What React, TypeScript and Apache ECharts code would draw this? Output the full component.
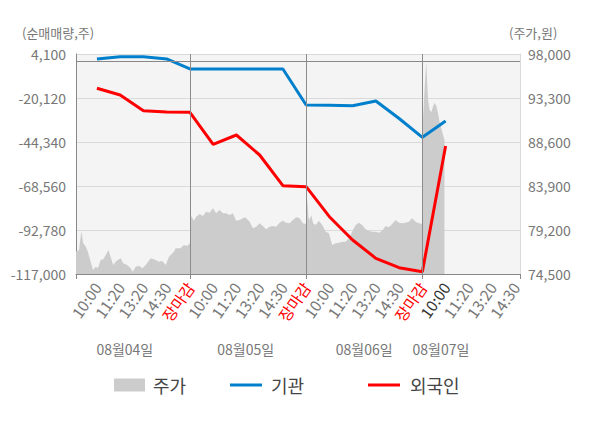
import { useEffect, useRef } from 'react';
import * as echarts from 'echarts';

// x-axis time labels, one per time slot (slot 1..19)
const X_LABELS = [
  '10:00', '11:20', '13:20', '14:30', '장마감',
  '10:00', '11:20', '13:20', '14:30', '장마감',
  '10:00', '11:20', '13:20', '14:30', '장마감',
  '10:00', '11:20', '13:20', '14:30',
];
const CLOSE_LABEL = '장마감';
const CURRENT_LABEL_INDEX = 15;

const DATE_LABELS = ['08월04일', '08월05일', '08월06일', '08월07일'];
const DATE_LABEL_SLOTS = [2.2, 7.4, 12.5, 15.8];
const DAY_BOUNDARIES = [5, 10, 15];

// net buying (shares), one value per time slot 1..16
const INSTITUTION = [
  1350, 2600, 2600, 1350, -4150,
  -4150, -4150, -4150, -4150, -23970,
  -24140, -24360, -21770, -31400, -41750,
  -32780,
];
const FOREIGN = [
  -14780, -18470, -27110, -27830, -27990,
  -45610, -40490, -51500, -68390, -68940,
  -85460, -98280, -108360, -113530, -115730,
  -46540,
];

// share price (won) sampled along the time slots
const PRICE_SLOT = [
  // 08/04
  0.1, 0.23, 0.33, 0.41, 0.52, 0.61, 0.73, 0.83, 0.95, 1.04,
  1.16, 1.27, 1.38, 1.49, 1.59, 1.7, 1.81, 1.9, 2.02, 2.13,
  2.3, 2.45, 2.54, 2.67, 2.81, 2.95, 3.1, 3.31, 3.53, 3.67,
  3.81, 3.96, 4.1, 4.31, 4.39, 4.6, 4.74, 4.88, 5.0,
  // 08/05
  5.03, 5.17, 5.27, 5.42, 5.56, 5.7, 5.85, 5.99, 6.13, 6.28,
  6.42, 6.56, 6.71, 6.85, 6.99, 7.14, 7.28, 7.38, 7.57, 7.71,
  7.85, 8.0, 8.14, 8.28, 8.43, 8.57, 8.71, 8.86, 9.0, 9.14,
  9.29, 9.43, 9.57, 9.72, 9.86, 10.0,
  // 08/06
  10.02, 10.05, 10.1, 10.15, 10.22, 10.3, 10.41, 10.55, 10.69, 10.84,
  10.98, 11.12, 11.27, 11.41, 11.55, 11.7, 11.84, 11.98, 12.13, 12.27,
  12.41, 12.56, 12.7, 12.84, 12.99, 13.13, 13.27, 13.42, 13.56, 13.7,
  13.85, 13.99, 14.13, 14.28, 14.42, 14.56, 14.71, 14.85, 15.0,
  // 08/07
  15.03, 15.1, 15.17, 15.24, 15.31, 15.39, 15.46, 15.53, 15.6, 15.67,
  15.74, 15.81, 15.88, 15.95,
];
const PRICE = [
  76900, 77050, 79100, 77810, 77420, 76880, 75810, 74930, 75280, 75110,
  76000, 76070, 76530, 77060, 76350, 75460, 75810, 76000, 76180, 75640,
  75460, 75110, 74750, 75280, 75390, 75110, 75460, 76180, 76000, 75810,
  75890, 75460, 76350, 76880, 77250, 77250, 77600, 77490, 77780,
  80800, 80190, 80620, 80910, 80700, 81150, 81050, 81520, 80980, 81340,
  80980, 80980, 80800, 80980, 80190, 80270, 80450, 80560, 80090, 79380,
  79550, 79920, 79630, 79280, 79550, 79630, 79550, 79980, 80190, 79980,
  79920, 80270, 80560, 80450, 79920, 79840,
  81500, 82500, 80600, 80270, 80800, 79920, 79730, 80190, 79730, 79020,
  78850, 77600, 77780, 77840, 77950, 77950, 78310, 79020, 79730, 79980,
  79730, 79280, 79130, 79020, 79020, 78910, 79130, 79630, 79490, 79840,
  80270, 79980, 79920, 79980, 80090, 80450, 80090, 79920, 79840,
  91160, 94480, 97150, 93190, 92020, 91800, 92450, 92770, 92450, 91700,
  90740, 90100, 89450, 88810,
];

const LEFT_MIN = -117000;
const LEFT_MAX = 4100;
const LEFT_STEP = 24220;
const RIGHT_MIN = 74500;
const RIGHT_MAX = 98000;
const RIGHT_STEP = 4700;
const X_MIN = 0.1;
const X_MAX = 19.2;

const FONT = "'Noto Sans CJK KR', 'Noto Sans', sans-serif";

export default function App() {
  const ref = useRef<HTMLDivElement>(null);

  useEffect(() => {
    if (!ref.current) return;
    const chart = echarts.init(ref.current, undefined, { renderer: 'svg' });

    const fmt = (v: number) => Number(v).toLocaleString('en-US');
    const labelIndex = (v: any) => Math.round(Number(v)) - 1;

    const option: any = {
      animation: false,
      textStyle: { fontFamily: FONT },
      title: [
        {
          text: '(순매매량,주)', left: 22, top: 26, padding: 0,
          textStyle: { fontSize: 13, fontWeight: 'normal', color: '#777', fontFamily: FONT },
        },
        {
          text: '(주가,원)', left: 509, top: 26, padding: 0,
          textStyle: { fontSize: 13, fontWeight: 'normal', color: '#777', fontFamily: FONT },
        },
      ],
      legend: [
        {
          data: ['주가'], left: 114, top: 376, padding: 0, icon: 'rect',
          itemWidth: 31, itemHeight: 13, itemStyle: { borderWidth: 0 },
          textStyle: { fontSize: 18, color: '#444', fontFamily: FONT, padding: [0, 0, 0, 3] },
        },
        {
          data: ['기관'], left: 230, top: 376, padding: 0, icon: 'rect',
          itemWidth: 32, itemHeight: 3, itemStyle: { borderWidth: 0 },
          textStyle: { fontSize: 18, color: '#444', fontFamily: FONT, padding: [0, 0, 0, 4] },
        },
        {
          data: ['외국인'], left: 368, top: 376, padding: 0, icon: 'rect',
          itemWidth: 32, itemHeight: 3, itemStyle: { borderWidth: 0 },
          textStyle: { fontSize: 18, color: '#444', fontFamily: FONT, padding: [0, 0, 0, 5] },
        },
      ],
      grid: {
        left: 76, right: 80, top: 54, bottom: 154,
        show: true, backgroundColor: '#f4f4f4', borderWidth: 0,
      },
      xAxis: [
        {
          type: 'value', min: X_MIN, max: X_MAX, position: 'bottom',
          axisLine: { show: true, onZero: false, lineStyle: { color: '#888' } },
          axisTick: {
            show: true, length: 5, lineStyle: { color: '#888' },
            customValues: [X_MIN, ...DAY_BOUNDARIES, X_MAX],
          },
          splitLine: { show: false },
          axisLabel: {
            customValues: X_LABELS.map((_, i) => i + 1),
            rotate: 55, margin: 10, fontSize: 15.5, fontFamily: FONT,
            formatter: (v: any) => X_LABELS[labelIndex(v)] ?? '',
            color: (v: any) => {
              const i = labelIndex(v);
              if (X_LABELS[i] === CLOSE_LABEL) return '#ff0000';
              if (i === CURRENT_LABEL_INDEX) return '#333';
              return '#777';
            },
          },
        },
        {
          type: 'value', min: X_MIN, max: X_MAX, position: 'bottom',
          axisLine: { show: false, onZero: false },
          axisTick: { show: false },
          splitLine: { show: false },
          axisLabel: {
            customValues: DATE_LABEL_SLOTS,
            margin: 68, fontSize: 14, color: '#777', fontFamily: FONT,
            formatter: (v: any) => {
              const i = DATE_LABEL_SLOTS.findIndex((s) => Math.abs(s - Number(v)) < 0.01);
              return i >= 0 ? DATE_LABELS[i] : '';
            },
          },
        },
      ],
      yAxis: [
        {
          type: 'value', position: 'left', min: LEFT_MIN, max: LEFT_MAX, interval: LEFT_STEP,
          axisLine: { show: true, onZero: false, lineStyle: { color: '#888' } },
          axisTick: { show: false },
          splitLine: { show: true, lineStyle: { color: '#dadada' } },
          axisLabel: { fontSize: 14, color: '#777', margin: 10, formatter: fmt },
        },
        {
          type: 'value', position: 'right', min: RIGHT_MIN, max: RIGHT_MAX, interval: RIGHT_STEP,
          axisLine: { show: true, onZero: false, lineStyle: { color: '#dadada' } },
          axisTick: { show: false },
          splitLine: { show: false },
          axisLabel: { fontSize: 14, color: '#777', margin: 8, formatter: fmt },
        },
      ],
      series: [
        {
          name: '주가', type: 'line', xAxisIndex: 0, yAxisIndex: 1,
          data: PRICE_SLOT.map((s, i) => [s, PRICE[i]]),
          symbol: 'none', showSymbol: false, color: '#cccccc',
          lineStyle: { width: 0 },
          areaStyle: { color: '#cccccc', opacity: 1, origin: 'start' },
          z: 1,
          markLine: {
            silent: true, symbol: ['none', 'none'], label: { show: false },
            lineStyle: { color: '#8c8c8c', type: 'solid', width: 1 },
            emphasis: { disabled: true },
            data: DAY_BOUNDARIES.map((d) => ({ xAxis: d })),
          },
        },
        {
          name: '기관', type: 'line', xAxisIndex: 0, yAxisIndex: 0,
          data: INSTITUTION.map((v, i) => [i + 1, v]),
          symbol: 'none', showSymbol: false, color: '#0080cc',
          lineStyle: { width: 3, color: '#0080cc' },
          z: 3,
          markLine: {
            silent: true, symbol: ['none', 'none'], label: { show: false },
            lineStyle: { color: '#888', type: 'solid', width: 1 },
            emphasis: { disabled: true },
            data: [{ yAxis: 0 }],
          },
        },
        {
          name: '외국인', type: 'line', xAxisIndex: 0, yAxisIndex: 0,
          data: FOREIGN.map((v, i) => [i + 1, v]),
          symbol: 'none', showSymbol: false, color: '#ff0000',
          lineStyle: { width: 3, color: '#ff0000' },
          z: 4,
        },
      ],
    };

    chart.setOption(option);
    return () => chart.dispose();
  }, []);

  return (
    <div
      ref={ref}
      style={{ position: 'fixed', left: 0, top: 0, width: 600, height: 428, background: '#fff' }}
    />
  );
}
